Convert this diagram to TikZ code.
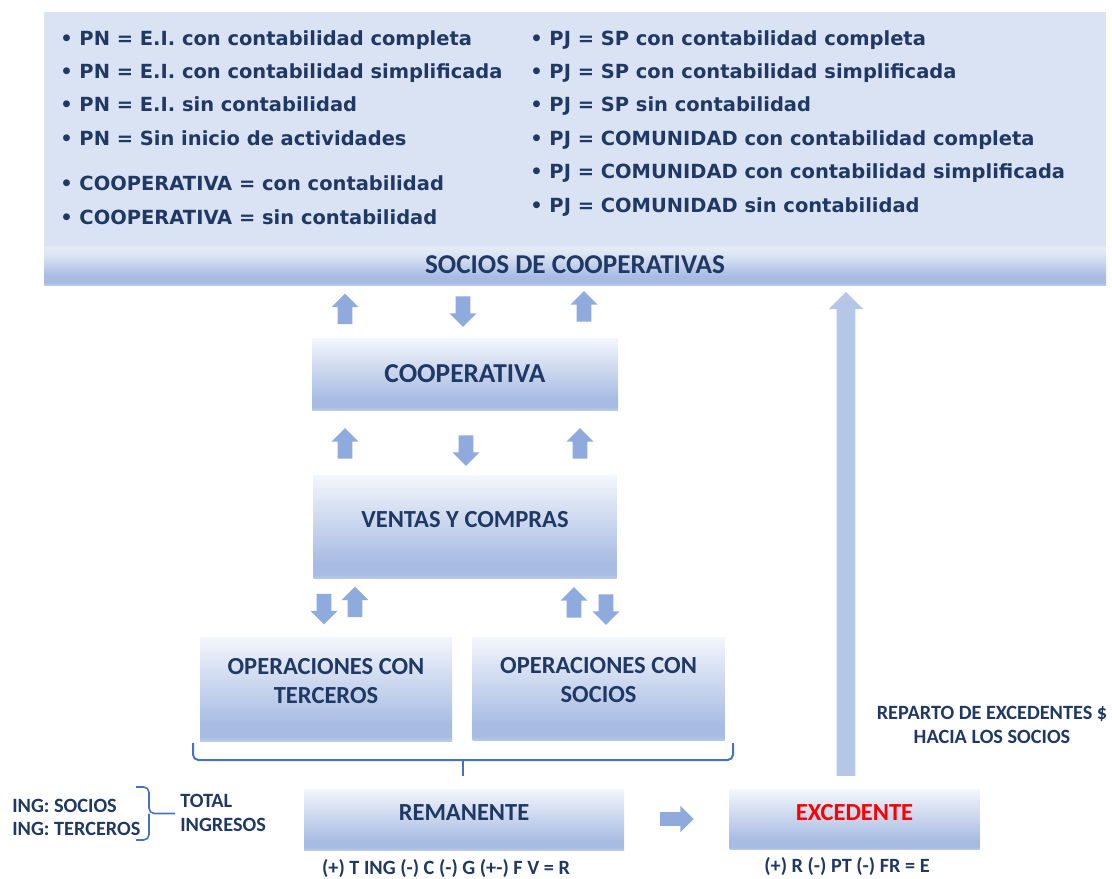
\documentclass[tikz,border=0pt]{standalone}
\usepackage{fontspec}
\setmainfont{Carlito}
\newfontfamily\listafont{DejaVu Sans}
\usetikzlibrary{positioning,shapes.arrows}

\definecolor{tinta}{HTML}{1F3864}
\definecolor{panel}{HTML}{DAE3F3}
\definecolor{claro}{HTML}{F3F6FC}
\definecolor{oscuro}{HTML}{A8BCE3}
\definecolor{borde}{HTML}{BACAEA}
\definecolor{brillo}{HTML}{E6ECF6}
\definecolor{flechaazul}{HTML}{8FAADC}
\definecolor{flechaclara}{HTML}{B4C7E7}
\definecolor{llave}{HTML}{4472C4}

\pgfdeclareverticalshading{degradado}{100bp}{%
  color(0bp)=(borde); color(25bp)=(borde); color(27bp)=(oscuro);
  color(33bp)=(oscuro); color(75bp)=(claro); color(100bp)=(claro)}
\pgfdeclareverticalshading{franja}{100bp}{%
  color(0bp)=(borde); color(25bp)=(borde); color(28bp)=(oscuro);
  color(36bp)=(oscuro); color(62bp)=(panel); color(72bp)=(brillo);
  color(75bp)=(panel); color(100bp)=(panel)}

\begin{document}
\begin{tikzpicture}[x=0.75pt, y=-0.75pt]
   \tikzset{
     caja/.style    = { shading      = degradado,
                        text         = tinta,
                        align        = center,
                        inner sep    = 0pt,
                        font         = \bfseries\fontsize{18.4}{22}\selectfont },
     lista/.style   = { text         = tinta,
                        align        = left,
                        anchor       = north west,
                        inner sep    = 0pt,
                        font         = \listafont\bfseries\fontsize{14.6}{25.1}\selectfont },
     nota/.style    = { text         = tinta,
                        inner sep    = 0pt,
                        font         = \bfseries\fontsize{15.2}{17.8}\selectfont },
     flecha/.style  = { single arrow,
                        fill         = flechaazul,
                        inner sep    = 0pt,
                        text height  = 10.5pt,
                        text depth   = 0pt,
                        minimum height = 23pt,
                        minimum width  = 20pt,
                        single arrow head extend = 4.75pt,
                        single arrow head indent = 0pt },
     llave/.style   = { draw = llave, line width = 1.5pt },
  }

  \useasboundingbox (0,0) rectangle (1112,878);

  % marco superior con los tipos de socios
  \node [fill = panel, minimum width = 796.5pt, minimum height = 204.75pt]
    (marco) at (575,148.5) {};

  \node [lista] (izq) at (60,30)
    {
      • PN = E.I. con contabilidad completa \\
      • PN = E.I. con contabilidad simplificada \\
      • PN = E.I. sin contabilidad \\
      • PN = Sin inicio de actividades \\[9pt]
      • COOPERATIVA = con contabilidad \\
      • COOPERATIVA = sin contabilidad
    };

  \node [lista] (der) at (530,30)
    {
      • PJ = SP con contabilidad completa \\
      • PJ = SP con contabilidad simplificada \\
      • PJ = SP sin contabilidad \\
      • PJ = COMUNIDAD con contabilidad completa \\
      • PJ = COMUNIDAD con contabilidad simplificada \\
      • PJ = COMUNIDAD sin contabilidad
    };

  \node [caja, shading = franja, minimum width = 796.5pt, minimum height = 30pt,
    font = \bfseries\fontsize{20.4}{24}\selectfont]
    (socios) at (575,265) {SOCIOS DE COOPERATIVAS};

  % cajas centrales
  \node [caja, minimum width = 229.5pt, minimum height = 54pt,
    font = \bfseries\fontsize{20.5}{24}\selectfont]
    (coop) at (465,374) {COOPERATIVA};

  \node [caja, minimum width = 227.25pt, minimum height = 77.25pt,
    text depth = 11pt, below = 48.75pt of coop] (ventas) {VENTAS Y COMPRAS};

  \node [caja, minimum width = 189pt, minimum height = 78pt, text depth = 12pt]
    (terceros) at (326,689) {OPERACIONES CON\\TERCEROS};

  \node [caja, minimum width = 189pt, minimum height = 77.25pt, text depth = 14pt,
    right = 15pt of terceros] (opsocios) {OPERACIONES CON\\SOCIOS};

  \node [caja, minimum width = 240pt, minimum height = 45.75pt, text depth = 10pt]
    (remanente) at (464,819.5) {REMANENTE};

  \node [caja, minimum width = 187.5pt, minimum height = 45pt, text depth = 10pt,
    text = red, right = 78.75pt of remanente] (excedente) {EXCEDENTE};

  % flechas de bloque
  \node [flecha, rotate = 90]  (f1) at (345,312.5) {};
  \node [flecha, rotate = -90] (f2) at (463,308)   {};
  \node [flecha, rotate = 90]  (f3) at (584,310)   {};

  \node [flecha, rotate = 90]  (f4) at (345,447)   {};
  \node [flecha, rotate = -90] (f5) at (466,447)   {};
  \node [flecha, rotate = 90]  (f6) at (580,447)   {};

  \node [flecha, rotate = -90] (f7)  at (324,605.5) {};
  \node [flecha, rotate = 90]  (f8)  at (355,605.5) {};
  \node [flecha, rotate = 90]  (f9)  at (574,606)   {};
  \node [flecha, rotate = -90] (f10) at (606,606)   {};

  \node [flecha, minimum height = 25pt, minimum width = 19pt, text height = 9.75pt]
    (f11) at (673.5,819) {};

  \node [flecha, rotate = 90, fill = flechaclara, minimum height = 363pt,
    minimum width = 25.5pt, text height = 13.5pt, single arrow head extend = 6pt]
    (reparto) at (846,538.5) {};

  % llave bajo las operaciones
  \draw [llave, rounded corners = 4pt]
    (193,743) -- (193,760) -- (733,760) -- (733,743);
  \draw [llave] (463,760) -- (463,776);

  % textos sueltos
  \node [nota, align = center] (txreparto) at (992,725)
    {REPARTO DE EXCEDENTES \$\\HACIA LOS SOCIOS};

  \node [nota, align = left, anchor = west] (ing) at (12,817.5)
    {ING: SOCIOS\\ING: TERCEROS};

  \draw [llave, line width = 1.2pt, rounded corners = 4pt]
    (136,787) -| (149,813.5) -- (175,813.5);
  \draw [llave, line width = 1.2pt, rounded corners = 4pt]
    (136,840) -| (149,813.5);

  \node [nota, align = left, anchor = west] (total) at (180,813)
    {TOTAL\\INGRESOS};

  \node [nota] (frem) at (446,868) {(+) T ING (-) C (-) G (+-) F V = R};
  \node [nota] (fexc) at (847,866) {(+) R (-) PT (-) FR = E};

\end{tikzpicture}
\end{document}
